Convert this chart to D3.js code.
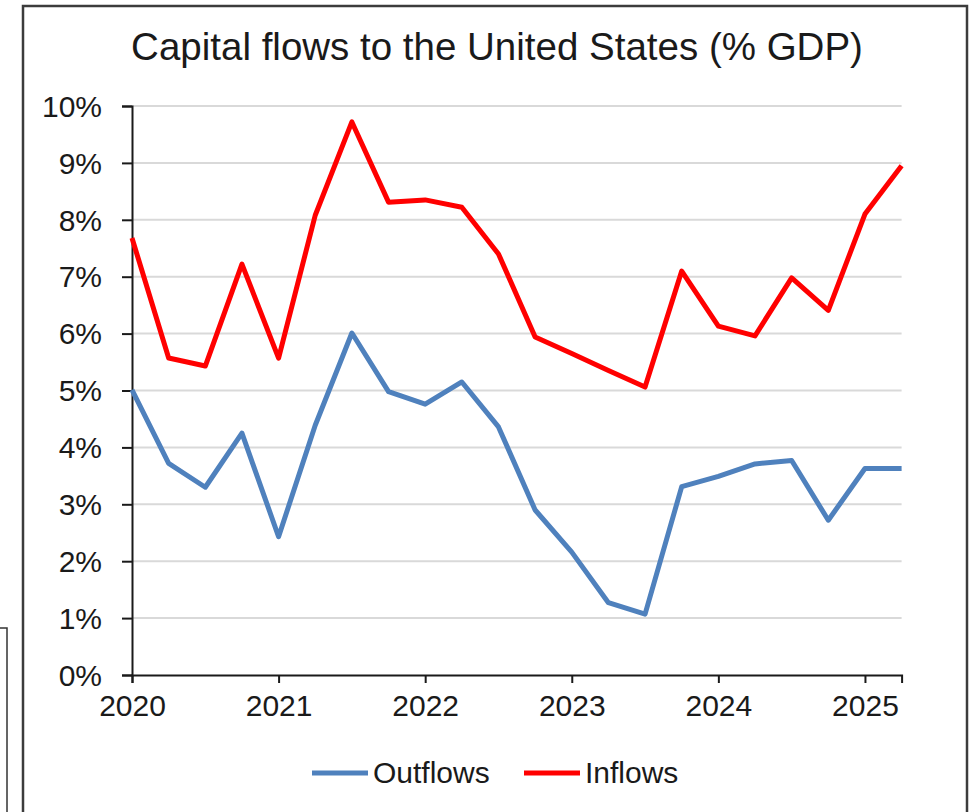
<!DOCTYPE html>
<html>
<head>
<meta charset="utf-8">
<script src="https://cdn.jsdelivr.net/npm/d3@7"></script>
<style>
  html, body { margin: 0; padding: 0; background: #fff; }
  svg { display: block; }
  text { font-family: "Liberation Sans", Arial, sans-serif; fill: #1a1a1a; }
</style>
</head>
<body>
<svg id="chart" width="976" height="812"></svg>
<script>
const titleText = "Capital flows to the United States (% GDP)";
const quarters = ["2020Q1","2020Q2","2020Q3","2020Q4","2021Q1","2021Q2","2021Q3","2021Q4",
  "2022Q1","2022Q2","2022Q3","2022Q4","2023Q1","2023Q2","2023Q3","2023Q4",
  "2024Q1","2024Q2","2024Q3","2024Q4","2025Q1","2025Q2"];
const outflows = [5.01, 3.72, 3.30, 4.25, 2.43, 4.39, 6.01, 4.98, 4.76, 5.15, 4.36, 2.90,
  2.16, 1.27, 1.07, 3.31, 3.49, 3.71, 3.77, 2.72, 3.63, 3.63];
const inflows = [7.68, 5.57, 5.43, 7.22, 5.57, 8.08, 9.72, 8.31, 8.35, 8.22, 7.40, 5.94,
  5.65, 5.35, 5.06, 7.10, 6.13, 5.96, 6.98, 6.41, 8.10, 8.95];
const yearLabels = ["2020","2021","2022","2023","2024","2025"];
const yTicks = [0,1,2,3,4,5,6,7,8,9,10];
const seriesNames = ["Outflows", "Inflows"];
const seriesColors = ["#4f81bd", "#ff0000"];

const svg = d3.select("#chart");

// outer frame and fragment box
svg.append("rect").attr("x", -10).attr("y", 628).attr("width", 17).attr("height", 220)
  .attr("fill", "none").attr("stroke", "#333").attr("stroke-width", 1.5);
svg.append("rect").attr("x", 23).attr("y", 6).attr("width", 944).attr("height", 830)
  .attr("fill", "#fff").attr("stroke", "#3c3c3c").attr("stroke-width", 2.5);

const x = d3.scaleLinear().domain([0, quarters.length - 1]).range([132, 901.6]);
const y = d3.scaleLinear().domain([0, 10]).range([675, 106]);

// title
svg.append("text").attr("x", 497).attr("y", 60).attr("text-anchor", "middle")
  .style("font-size", "38.5px").text(titleText);

// gridlines
svg.append("g").selectAll("line").data(yTicks.filter(d => d > 0)).join("line")
  .attr("x1", x(0)).attr("x2", x(quarters.length - 1))
  .attr("y1", d => y(d)).attr("y2", d => y(d))
  .attr("stroke", "#d9d9d9").attr("stroke-width", 2);

// y axis
const yAxis = svg.append("g").attr("transform", `translate(${x(0)},0)`)
  .call(d3.axisLeft(y).tickValues(yTicks).tickSize(10).tickPadding(20)
    .tickFormat(d => d + "%"));
yAxis.select(".domain").attr("stroke", "#1a1a1a").attr("stroke-width", 2);
yAxis.selectAll(".tick line").attr("stroke", "#1a1a1a").attr("stroke-width", 2);
yAxis.selectAll(".tick text").style("font-size", "30px")
  .style("font-family", "'Liberation Sans', Arial, sans-serif").attr("fill", "#1a1a1a")
  .attr("dy", "0.34em");

// x axis
const xAxis = svg.append("g").attr("transform", `translate(0,${y(0)})`)
  .call(d3.axisBottom(x).tickValues(yearLabels.map((d, i) => i * 4))
    .tickSize(8).tickPadding(12).tickFormat((d, i) => yearLabels[i]));
xAxis.select(".domain").attr("stroke", "#1a1a1a").attr("stroke-width", 2);
xAxis.selectAll(".tick line").attr("stroke", "#1a1a1a").attr("stroke-width", 2);
xAxis.selectAll(".tick text").style("font-size", "30px")
  .style("font-family", "'Liberation Sans', Arial, sans-serif").attr("fill", "#1a1a1a");

// lines
const line = d3.line().x((d, i) => x(i)).y(d => y(d));
[outflows, inflows].forEach((s, k) => {
  svg.append("path").datum(s).attr("d", line)
    .attr("fill", "none").attr("stroke", seriesColors[k]).attr("stroke-width", 5)
    .attr("stroke-linejoin", "round");
});

// legend
const legendX = [312, 524];
seriesNames.forEach((n, k) => {
  svg.append("line").attr("x1", legendX[k]).attr("x2", legendX[k] + 56)
    .attr("y1", 773).attr("y2", 773)
    .attr("stroke", seriesColors[k]).attr("stroke-width", 5);
  svg.append("text").attr("x", legendX[k] + 61).attr("y", 783)
    .style("font-size", "30px").text(n);
});
</script>
</body>
</html>
